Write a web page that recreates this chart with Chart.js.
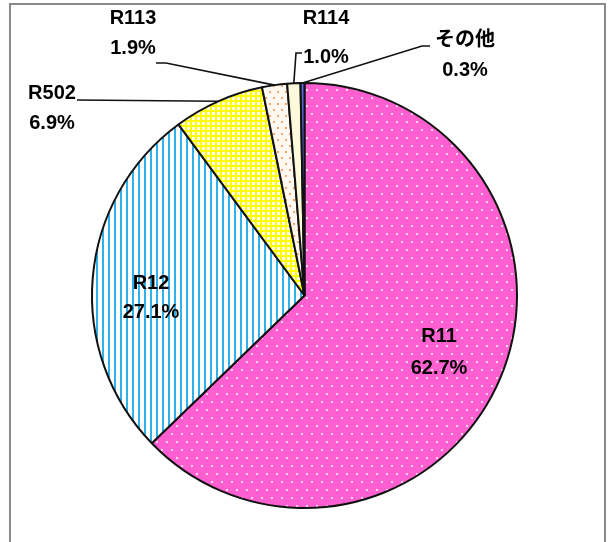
<!DOCTYPE html>
<html>
<head>
<meta charset="utf-8">
<script src="https://cdn.jsdelivr.net/npm/chart.js@4.4.1/dist/chart.umd.min.js"></script>
<style>
  html, body { margin: 0; padding: 0; background: #fff; }
  #wrap { position: relative; width: 608px; height: 542px; overflow: hidden; }
  #frame { position: absolute; left: 9px; top: 3px; width: 597px; height: 600px; box-sizing: border-box; border: 2px solid #8a8a8a; pointer-events: none; }
  canvas { position: absolute; left: 0; top: 0; }
</style>
</head>
<body>
<div id="wrap">
  <canvas id="c" width="608" height="542"></canvas>
  <div id="frame"></div>
</div>
<script>
// ---- data ----
const categories = ['R11', 'R12', 'R502', 'R113', 'R114', 'その他'];
const shares = [62.7, 27.1, 6.9, 1.9, 1.0, 0.3];
const shareLabels = ['62.7%', '27.1%', '6.9%', '1.9%', '1.0%', '0.3%'];

// ---- patterns (styles) ----
function makeTile(w, h, draw) {
  const t = document.createElement('canvas');
  t.width = w; t.height = h;
  const g = t.getContext('2d');
  draw(g, w, h);
  return document.getElementById('c').getContext('2d').createPattern(t, 'repeat');
}
const pinkDots = makeTile(10, 16, (g, w, h) => {
  g.fillStyle = '#ff5fd0'; g.fillRect(0, 0, w, h);
  g.fillStyle = '#ffdaf3';
  g.fillRect(1, 1, 2, 2);
  g.fillRect(6, 9, 2, 2);
});
const blueStripes = makeTile(6, 6, (g, w, h) => {
  g.fillStyle = '#ffffff'; g.fillRect(0, 0, w, h);
  g.fillStyle = '#2fb2ea'; g.fillRect(0, 0, 2, h);
});
const yellowGrid = makeTile(5, 5, (g, w, h) => {
  g.fillStyle = '#ffff00'; g.fillRect(0, 0, w, h);
  g.fillStyle = '#ffffee'; g.fillRect(2, 2, 3, 3);
});
const orangeDots = makeTile(8, 12, (g, w, h) => {
  g.fillStyle = '#fff9f2'; g.fillRect(0, 0, w, h);
  g.fillStyle = '#f5a56a';
  g.fillRect(1, 1, 2, 2);
  g.fillRect(5, 7, 2, 2);
});
const fills = [pinkDots, blueStripes, yellowGrid, orangeDots, '#fcf9dc', '#5b66d6'];

// ---- label layout ----
const FONT = 'bold 20px "Liberation Sans", "Noto Sans CJK JP", sans-serif';
const labelLayout = {
  0: { x: 439, y1: 336, y2: 368 },
  1: { x: 151, y1: 283, y2: 312 },
  2: { x: 52,  y1: 93, y2: 123, path: [[77, 100]] },
  3: { x: 133, y1: 18, y2: 48,  path: [[156, 63], [166, 63]] },
  4: { x: 326, y1: 18, y2: 57,  path: [[302, 53], [296, 53]] },
  5: { x: 465, y1: 40, y2: 70,  path: [[430, 46], [422, 46]] }
};

const labelPlugin = {
  id: 'sliceLabels',
  afterDatasetsDraw(chart) {
    const ctx = chart.ctx;
    const meta = chart.getDatasetMeta(0);
    ctx.save();
    ctx.font = FONT;
    ctx.fillStyle = '#000';
    ctx.textAlign = 'center';
    ctx.textBaseline = 'middle';
    meta.data.forEach((arc, i) => {
      const p = arc.getProps(['x', 'y', 'startAngle', 'endAngle', 'outerRadius'], true);
      const mid = (p.startAngle + p.endAngle) / 2;
      const lay = labelLayout[i];
      if (lay.path) {
        const ex = p.x + Math.cos(mid) * p.outerRadius;
        const ey = p.y + Math.sin(mid) * p.outerRadius;
        ctx.beginPath();
        ctx.strokeStyle = '#111';
        ctx.lineWidth = 1.6;
        ctx.moveTo(lay.path[0][0], lay.path[0][1]);
        for (let k = 1; k < lay.path.length; k++) ctx.lineTo(lay.path[k][0], lay.path[k][1]);
        ctx.lineTo(ex, ey);
        ctx.stroke();
      }
      ctx.fillText(categories[i], lay.x, lay.y1);
      ctx.fillText(shareLabels[i], lay.x, lay.y2);
    });
    ctx.restore();
  }
};

new Chart(document.getElementById('c'), {
  type: 'pie',
  data: {
    labels: categories,
    datasets: [{
      data: shares,
      backgroundColor: fills,
      borderColor: '#111',
      borderWidth: 2,
      borderAlign: 'center'
    }]
  },
  options: {
    responsive: false,
    animation: false,
    devicePixelRatio: 1,
    layout: { padding: { left: 91, right: 90, top: 82, bottom: 33 } },
    plugins: { legend: { display: false }, tooltip: { enabled: false } }
  },
  plugins: [labelPlugin]
});
</script>
</body>
</html>
